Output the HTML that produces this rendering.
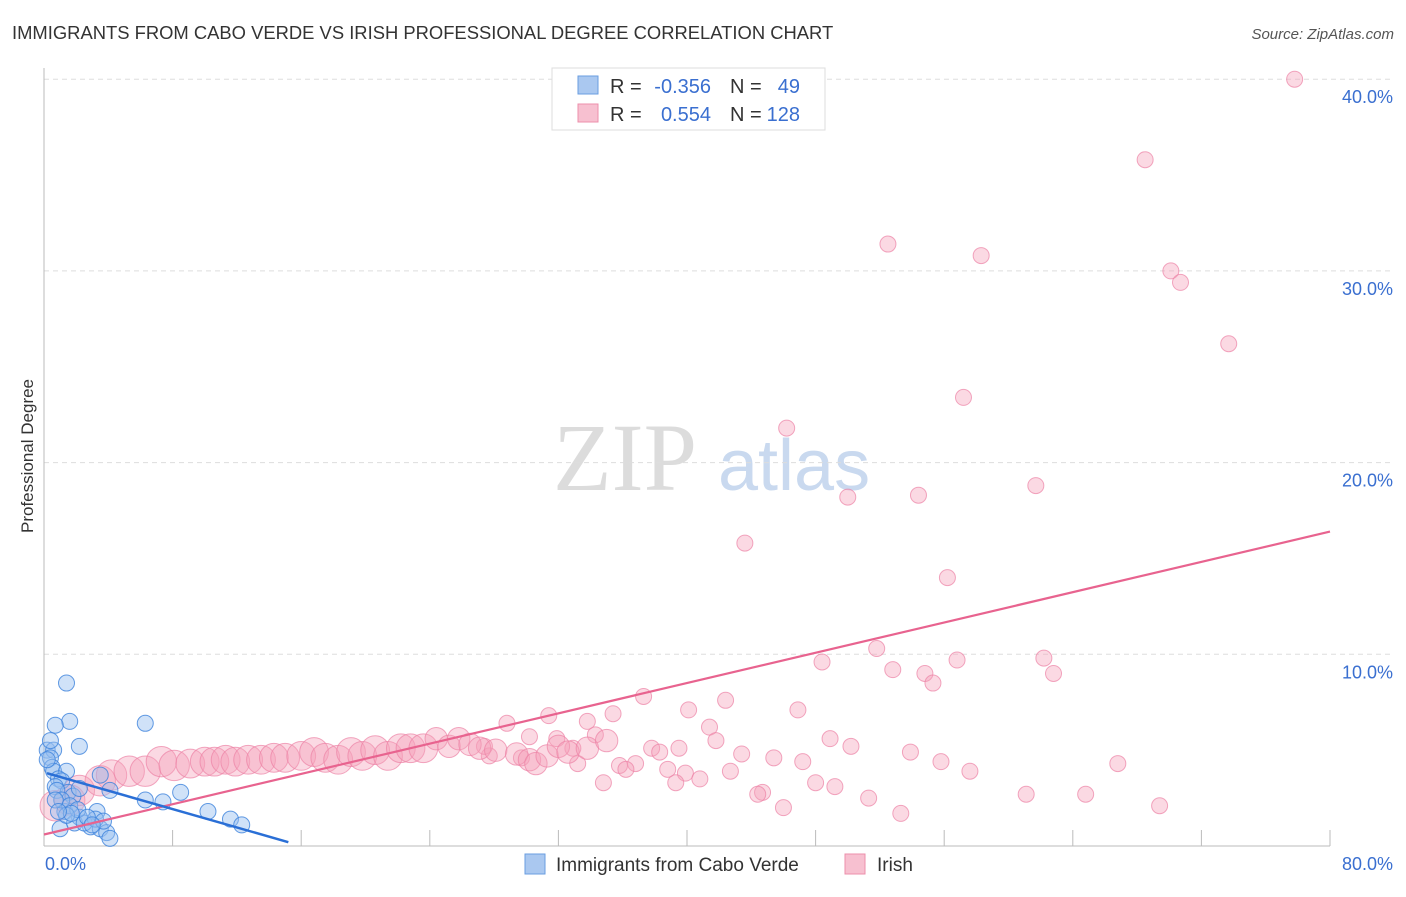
<!DOCTYPE html>
<html><head><meta charset="utf-8"><style>
body{margin:0;background:#fff;font-family:"Liberation Sans",sans-serif;}
</style></head><body>
<svg id="c" width="1406" height="892" style="font-family:'Liberation Sans',sans-serif">
<text x="12" y="39" font-size="18.4" fill="#333">IMMIGRANTS FROM CABO VERDE VS IRISH PROFESSIONAL DEGREE CORRELATION CHART</text>
<text x="1394" y="39" font-size="15" fill="#555" font-style="italic" text-anchor="end">Source: ZipAtlas.com</text>
<text x="33" y="456" font-size="17" fill="#333" text-anchor="middle" transform="rotate(-90 33 456)">Professional Degree</text>
<text x="553" y="490" font-size="96" fill="#dcdcdc" style="font-family:'Liberation Serif',serif">ZIP</text>
<text x="718" y="490" font-size="72" fill="#c9d9ef">atlas</text>
<g id="grid"></g><g id="pts"></g><g id="lines"></g>
<g font-size="20">
<rect x="552" y="68" width="273" height="62" fill="#fff" stroke="#ddd"/>
<rect x="578" y="76" width="20" height="18" fill="#aac8f0" stroke="#6a9ee0"/>
<rect x="578" y="104" width="20" height="18" fill="#f7c0d0" stroke="#ec8fab"/>
<text x="610" y="93" fill="#333">R =</text><text x="711" y="93" fill="#3a6fd0" text-anchor="end">-0.356</text>
<text x="730" y="93" fill="#333">N =</text><text x="800" y="93" fill="#3a6fd0" text-anchor="end">49</text>
<text x="610" y="121" fill="#333">R =</text><text x="711" y="121" fill="#3a6fd0" text-anchor="end">0.554</text>
<text x="730" y="121" fill="#333">N =</text><text x="800" y="121" fill="#3a6fd0" text-anchor="end">128</text>
</g>
<g>
<rect x="525" y="854" width="20" height="20" fill="#aac8f0" stroke="#6a9ee0"/>
<text x="556" y="871" font-size="19" fill="#333">Immigrants from Cabo Verde</text>
<rect x="845" y="854" width="20" height="20" fill="#f7c0d0" stroke="#ec8fab"/>
<text x="877" y="871" font-size="19" fill="#333">Irish</text>
</g>
</svg>
<script>
const yTicks=[10,20,30,40];
const yTickLabels=["10.0%","20.0%","30.0%","40.0%"];
const xTicks=[0,8,16,24,32,40,48,56,64,72,80];
const xEndLabels=["0.0%","80.0%"];
const blueX=[1.4,1.6,0.7,2.2,0.2,0.6,0.4,0.5,0.6,1.4,0.9,1.1,0.7,1.5,1.8,2.2,3.5,4.1,6.3,6.3,7.4,8.5,10.2,11.6,12.3,3.3,1.3,2.2,2.9,3.5,3.9,4.1,1.0,1.9,2.5,3.2,0.4,0.2,0.8,1.1,1.6,2.1,2.7,3.7,1.4,1.7,0.7,0.9,3.0];
const blueY=[8.5,6.5,6.3,5.2,5.0,5.0,4.6,4.1,3.9,3.9,3.5,3.4,3.1,2.8,2.6,3.0,3.7,2.9,6.4,2.4,2.3,2.8,1.8,1.4,1.1,1.8,1.8,1.5,1.0,0.9,0.7,0.4,0.9,1.2,1.2,1.4,5.5,4.5,2.9,2.4,2.1,1.9,1.5,1.3,1.6,1.7,2.4,1.8,1.1];
const pinkX=[77.8,68.5,52.5,58.3,70.1,70.7,73.7,57.2,46.2,50.0,54.4,61.7,43.6,56.2,48.4,51.8,52.8,54.8,55.3,56.8,62.2,62.8,37.3,42.4,40.1,46.9,35.4,31.4,33.8,28.8,41.4,34.3,30.2,41.8,31.9,48.9,50.2,37.8,39.5,32.9,38.3,43.4,53.9,45.4,47.2,55.8,29.7,33.2,27.7,27.4,35.8,36.8,38.8,39.9,42.7,57.6,66.8,34.8,39.3,40.8,48.0,49.2,44.7,44.4,51.3,61.1,64.8,69.4,46.0,53.3,36.2,
0.7,1.6,2.2,3.5,4.2,5.3,6.3,7.3,8.1,9.1,10.0,10.6,11.3,11.9,12.7,13.5,14.3,15.0,16.0,16.8,17.5,18.3,19.1,19.8,20.6,21.4,22.2,22.8,23.6,24.4,25.2,25.8,26.5,27.1,28.1,29.4,30.2,30.6,31.3,32.0,32.6,33.8,35.0];
const pinkY=[40.0,35.8,31.4,30.8,30.0,29.4,26.2,23.4,21.8,18.2,18.3,18.8,15.8,14.0,9.6,10.3,9.2,9.0,8.5,9.7,9.8,9.0,7.8,7.6,7.1,7.1,6.9,6.8,6.5,6.4,6.2,5.8,5.7,5.5,5.6,5.6,5.2,5.1,5.1,5.1,4.9,4.8,4.9,4.6,4.4,4.4,4.6,4.3,4.7,5.2,4.2,4.3,4.0,3.8,3.9,3.9,4.3,3.3,3.3,3.5,3.3,3.1,2.8,2.7,2.5,2.7,2.7,2.1,2.0,1.7,4.0,
2.1,2.4,2.9,3.4,3.7,3.9,3.9,4.4,4.2,4.3,4.4,4.4,4.5,4.4,4.5,4.5,4.6,4.6,4.7,4.9,4.6,4.5,4.9,4.7,5.0,4.7,5.1,5.1,5.1,5.6,5.2,5.6,5.3,5.1,5.0,4.8,4.5,4.3,4.7,5.2,4.9,5.1,5.5];
const pinkWeight=[];for(let i=0;i<pinkX.length;i++)pinkWeight.push(i<71?1:(i<80?1.9:(i<100?1.8:1.4)));
const blueTrend=[0,3.8,15.2,0.2];
const pinkTrend=[0,0.6,80,16.4];
const NS="http://www.w3.org/2000/svg";
const X=v=>44+v*16.075, Y=v=>846-v*19.17;
function mk(t,a,p){const e=document.createElementNS(NS,t);for(const k in a)e.setAttribute(k,a[k]);p.appendChild(e);return e;}
const grid=document.getElementById('grid');
yTicks.forEach((t,i)=>{
 const l=mk('line',{x1:44,x2:1394,y1:Y(t),y2:Y(t),stroke:'#ddd','stroke-dasharray':'5,4'},grid);
 
 
 const tx=mk('text',{x:1393,y:Y(t)+24,'font-size':18,fill:'#3a6fd0','text-anchor':'end'},grid);tx.textContent=yTickLabels[i];
 
 
});
xTicks.forEach(t=>{const l=mk('line',{x1:X(t),x2:X(t),y1:830,y2:846,stroke:'#bbb'},grid);
 
 });
mk('line',{x1:44,x2:44,y1:68,y2:846,stroke:'#bbb'},grid);
mk('line',{x1:44,x2:1330,y1:846,y2:846,stroke:'#bbb'},grid);
let t0=mk('text',{x:45,y:870,'font-size':18,fill:'#3a6fd0'},grid);t0.textContent=xEndLabels[0];


let t1=mk('text',{x:1393,y:870,'font-size':18,fill:'#3a6fd0','text-anchor':'end'},grid);t1.textContent=xEndLabels[1];


const pts=document.getElementById('pts');
pinkX.forEach((v,i)=>{const c=mk('circle',{cx:X(v),cy:Y(pinkY[i]),r:8*pinkWeight[i],fill:'rgba(244,160,186,0.4)',stroke:'rgba(236,130,165,0.7)','stroke-width':1},pts);
 
 });
blueX.forEach((v,i)=>{const c=mk('circle',{cx:X(v),cy:Y(blueY[i]),r:8,fill:'rgba(150,190,240,0.45)',stroke:'rgba(60,130,220,0.8)','stroke-width':1},pts);
 
 });
const lines=document.getElementById('lines');
let pl=mk('line',{x1:X(pinkTrend[0]),y1:Y(pinkTrend[1]),x2:X(pinkTrend[2]),y2:Y(pinkTrend[3]),stroke:'#e8638f','stroke-width':2.2},lines);


let bl=mk('line',{x1:X(blueTrend[0])+3,y1:Y(blueTrend[1]),x2:X(blueTrend[2]),y2:Y(blueTrend[3]),stroke:'#2a6fd6','stroke-width':2.5},lines);


</script>
</body></html>
